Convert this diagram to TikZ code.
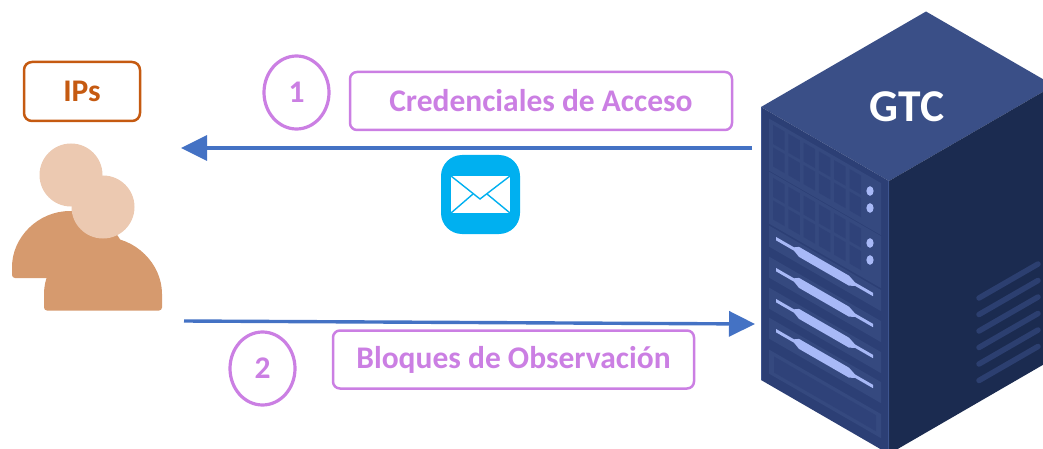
\documentclass[tikz,border=0pt]{standalone}
\usepackage{fontspec}
\setmainfont{Carlito}
\usetikzlibrary{arrows.meta,shapes.geometric}
\definecolor{arrowblue}{HTML}{4472C4}
\definecolor{lilac}{HTML}{CB7FE3}
\definecolor{ipor}{HTML}{C55A11}
\definecolor{skin}{HTML}{D69A6E}
\definecolor{skinl}{HTML}{ECC9B1}
\definecolor{mailb}{HTML}{00B0F0}
\definecolor{srvtop}{HTML}{3A4F87}
\definecolor{srvleft}{HTML}{2C3F75}
\definecolor{srvpanel}{HTML}{35497F}
\definecolor{srvcell}{HTML}{2F4279}
\definecolor{srvright}{HTML}{1B2B50}
\definecolor{srvline}{HTML}{3E5590}
\definecolor{srvlight}{HTML}{A8B9F7}
\definecolor{srvvent}{HTML}{2C3F70}
\newcommand{\skewbox}[5]{\fill[#1] (#2,#3) -- (#4,#3) -- (#4,#5) -- (#2,#5) -- cycle;}
\tikzset{
  flow/.style={draw=arrowblue,line width=3.4pt,-{Triangle[length=26pt,width=25pt]},shorten >=0pt},
  lilacbox/.style={draw=lilac,line width=2.5pt,rounded corners=7pt,text=lilac,font=\bfseries\fontsize{31.5}{34}\selectfont,inner sep=0pt,minimum height=58pt},
  numring/.style={ellipse,draw=lilac,line width=3.2pt,text=lilac,font=\bfseries\fontsize{31.5}{34}\selectfont,minimum width=65pt,minimum height=73pt,inner sep=0pt},
  ipsbox/.style={draw=ipor,line width=2.5pt,rounded corners=8pt,text=ipor,font=\bfseries\fontsize{31.5}{34}\selectfont,minimum width=116pt,minimum height=59pt,inner sep=0pt},
  led/.style={fill=srvlight,draw=none},
  vent/.style={draw=srvvent,line width=5.5pt,line cap=round},
}
\begin{document}
\begin{tikzpicture}[x=1pt,y=-1pt]
\useasboundingbox (0,0) rectangle (1043,449);
\begin{scope}
\clip (0,0) rectangle (1043,449);
% server faces
\fill[srvtop] (926,11.5) -- (761,107) -- (889,181) -- (1060,82) -- (1060,89) -- cycle;
\fill[srvright] (889,181) -- (1060,82) -- (1060,355) -- (889,454) -- cycle;
\fill[srvleft] (761,107) -- (889,181) -- (889,454) -- (761,380) -- cycle;
\draw[srvline,line width=1pt] (761,107) -- (761,380);
\draw[srvline,line width=1pt] (888,181) -- (888,454);
% left face details in skewed coordinates
\begin{scope}[shift={(761,107)},x={(1pt,-0.576pt)},y={(0pt,-1pt)}]
  \foreach \vv in {10,63}{
    \pgfmathsetmacro{\pa}{\vv-3}\pgfmathsetmacro{\pb}{\vv+49}
    \skewbox{srvpanel}{8}{\pa}{120}{\pb}
    \foreach \cc in {0,...,5}{
      \foreach \rr in {0,1}{
        \pgfmathsetmacro{\ua}{12+\cc*15.3}\pgfmathsetmacro{\ub}{\ua+11.5}
        \pgfmathsetmacro{\va}{\vv+1+\rr*22.5}\pgfmathsetmacro{\vb}{\va+19}
        \skewbox{srvcell}{\ua}{\va}{\ub}{\vb}
      }
    }
  }
  \foreach \vv in {123,154,185,215}{
    \pgfmathsetmacro{\pa}{\vv-9}\pgfmathsetmacro{\pb}{\vv+12}
    \skewbox{srvpanel}{8}{\pa}{120}{\pb}
    \fill[srvlight] (15,\vv-1.7) -- (33,\vv-1.7) -- (38,\vv-5) -- (88,\vv-5) -- (94,\vv-1.7) -- (112,\vv-1.7)
      -- (112,\vv+1.7) -- (94,\vv+1.7) -- (88,\vv+5) -- (38,\vv+5) -- (33,\vv+1.7) -- (15,\vv+1.7) -- cycle;
  }
  \skewbox{srvpanel}{8}{238}{120}{262}
  \skewbox{srvcell}{13}{242}{115}{258}
\end{scope}
\foreach \yy in {191,208,243,260}{
  \fill[led] (870,\yy) ellipse [x radius=3.6pt,y radius=4.8pt];
}
\foreach \k in {0,...,5}{
  \draw[vent] (979,298+\k*16.5) -- (1038,264+\k*16.5);
}
\end{scope}
\node[text=white,font=\bfseries\fontsize{45.5}{48}\selectfont,inner sep=0pt] (gtc) at (907,107) {GTC};
% person
\fill[skin,rounded corners=3pt] (12,278) -- (12,270) arc[start angle=180,end angle=0,x radius=58pt,y radius=59pt] -- (128,278) -- cycle;
\fill[skin,rounded corners=3pt] (44,310.5) -- (44,297) arc[start angle=180,end angle=0,x radius=59pt,y radius=60pt] -- (162,310.5) -- cycle;
\node[circle,fill=skinl,minimum size=63pt,inner sep=0pt] (headback) at (71,175) {};
\node[circle,fill=skinl,minimum size=63pt,inner sep=0pt] (headfront) at (103,207) {};
\node[ipsbox] (ips) at (82,91.5) {IPs};
% arrows
\coordinate (a1s) at (752,148);
\coordinate (a1e) at (181,148);
\coordinate (a2s) at (184,321);
\coordinate (a2e) at (755,324);
\draw[flow] (a1s) -- (a1e);
\draw[flow] (a2s) -- (a2e);
% labels
\node[numring] (n1) at (296.5,92.5) {1};
\node[numring] (n2) at (262.5,368.5) {2};
\node[lilacbox,minimum width=382pt] (cred) at (541,101) {Credenciales de Acceso};
\node[lilacbox,minimum width=361pt] (bloq) at (513.5,359.5) {Bloques de Observación};
% mail icon
\fill[mailb,rounded corners=21pt] (441,155) rectangle (520,234);
\fill[white] (451,176) rectangle (510,213);
\draw[mailb,line width=1.4pt,line join=miter] (451,176) -- (480,199) -- (510,176);
\draw[mailb,line width=1.4pt] (451,213) -- (473,194);
\draw[mailb,line width=1.4pt] (510,213) -- (487,194);
\end{tikzpicture}
\end{document}
